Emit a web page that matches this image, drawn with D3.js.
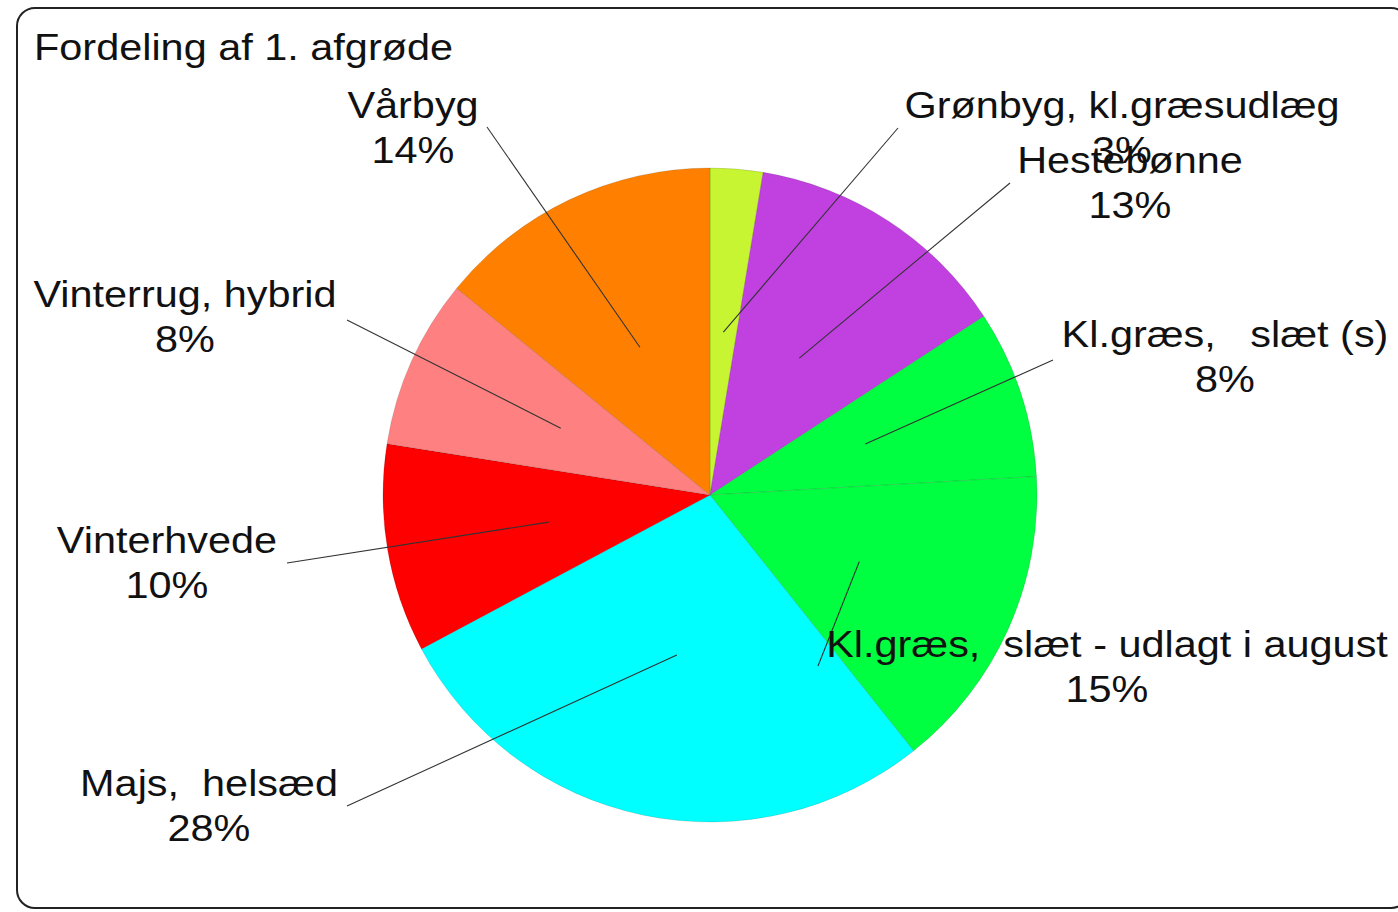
<!DOCTYPE html>
<html>
<head>
<meta charset="utf-8">
<script src="https://cdn.jsdelivr.net/npm/d3@7"></script>
<style>
  html, body { margin: 0; padding: 0; background: #fff; }
  svg { display: block; font-family: "Liberation Sans", Arial, sans-serif; }
  text { white-space: pre; }
</style>
</head>
<body>
<svg id="svg" width="1398" height="912"></svg>
<script>
// values (percent of area)
const crops = [
    'Grønbyg, kl.græsudlæg',
    'Hestebønne',
    'Kl.græs,   slæt (s)',
    'Kl.græs,  slæt - udlagt i august',
    'Majs,  helsæd',
    'Vinterhvede',
    'Vinterrug, hybrid',
    'Vårbyg'
];
const shares = [2.6, 13.2, 8.3, 15.2, 27.9, 10.3, 8.4, 14.1];
const sliceColors = ['#c8f532', '#c040e0', '#00ff40', '#00ff40', '#00ffff', '#ff0000', '#ff8080', '#ff8000'];

// where each label sits (centre x, first baseline)
const labelAnchor = [
    [1122, 118], [1130, 173], [1225, 347], [1107, 657],
    [209, 796], [167, 553], [185, 307], [413, 118]
];
// outer end of each leader line
const lineEnd = [
    [898, 128], [1010, 183], [1053, 360], [818, 666],
    [347, 806], [287, 563], [347, 320], [487, 127]
];

const svg = d3.select('#svg');
const cx = 710, cy = 495, radius = 327;
const fontSize = 37, stretch = 1.12;

svg.append('rect')
    .attr('x', 17).attr('y', 8)
    .attr('width', 1392).attr('height', 900)
    .attr('rx', 18)
    .attr('fill', 'none')
    .attr('stroke', '#222')
    .attr('stroke-width', 2);

svg.append('g')
    .attr('transform', 'translate(34,60) scale(' + stretch + ',1)')
    .append('text')
    .attr('font-size', fontSize)
    .attr('fill', '#111')
    .text('Fordeling af 1. afgrøde');

const data = crops.map(function(c, i) { return {name: c, value: shares[i], i: i}; });

const pie = d3.pie().sort(null).value(function(d) { return d.value; });
const arc = d3.arc().innerRadius(0).outerRadius(radius);
const midArc = d3.arc().innerRadius(radius / 2).outerRadius(radius / 2);

const g = svg.append('g').attr('transform', 'translate(' + cx + ',' + cy + ')');
const arcs = pie(data);

g.selectAll('path').data(arcs)
    .enter()
    .append('path')
    .attr('d', arc)
    .attr('fill', function(d) { return sliceColors[d.data.i]; })
    .attr('stroke', 'rgba(0,0,0,0.18)')
    .attr('stroke-width', 0.7);

// leader lines
g.selectAll('line.leader').data(arcs)
    .enter()
    .append('line')
    .classed('leader', true)
    .attr('x1', function(d) { return midArc.centroid(d)[0]; })
    .attr('y1', function(d) { return midArc.centroid(d)[1]; })
    .attr('x2', function(d) { return lineEnd[d.data.i][0] - cx; })
    .attr('y2', function(d) { return lineEnd[d.data.i][1] - cy; })
    .attr('stroke', '#333')
    .attr('stroke-width', 1.1);

const fmt = function(v) { return Math.round(v) + '%'; };

const labels = svg.append('g').selectAll('g').data(arcs)
    .enter()
    .append('g')
    .attr('transform', function(d) {
        const p = labelAnchor[d.data.i];
        return 'translate(' + p[0] + ',' + p[1] + ') scale(' + stretch + ',1)';
    })
    .append('text')
    .attr('text-anchor', 'middle')
    .attr('font-size', fontSize)
    .attr('fill', '#111');
labels.append('tspan')
    .attr('x', 0).attr('y', 0)
    .text(function(d) { return d.data.name; });
labels.append('tspan')
    .attr('x', 0).attr('y', 45)
    .text(function(d) { return fmt(d.data.value); });
</script>
</body>
</html>
